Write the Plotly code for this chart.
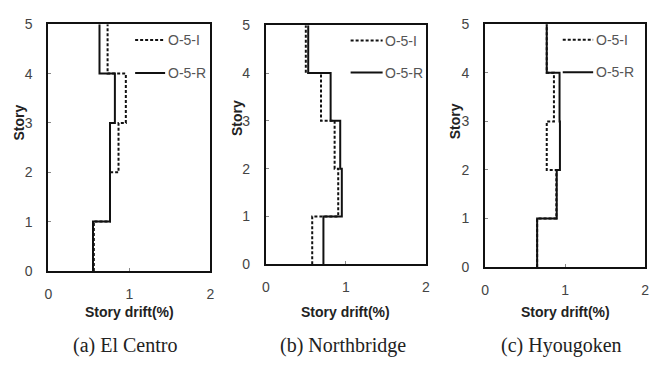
import plotly.graph_objects as go

stories = [0, 1, 2, 3, 4, 5]
# drift (%) per story interval (story 1..5), from bottom
elcentro_I = [0.56, 0.76, 0.865, 0.955, 0.73]
elcentro_R = [0.55, 0.76, 0.76, 0.82, 0.63]
northridge_I = [0.58, 0.905, 0.86, 0.69, 0.50]
northridge_R = [0.72, 0.95, 0.93, 0.81, 0.53]
hyougo_I = [0.65, 0.89, 0.77, 0.86, 0.77]
hyougo_R = [0.65, 0.895, 0.935, 0.93, 0.77]

captions = ["(a) El Centro", "(b) Northbridge", "(c) Hyougoken"]
series_names = ["O-5-I", "O-5-R"]
x_ticks = [0, 1, 2]
y_ticks = [0, 1, 2, 3, 4, 5]

W, H = 663, 365
panels_px = [(45, 209, 17, 275), (265, 427, 18, 268), (487, 649, 17, 271)]
legend_x = [(1.07, 1.44), (1.06, 1.46), (0.97, 1.35)]
story_lbl = [(15, 120), (236, 115), (456, 118)]
caption_cx = [122, 343, 564]

data = [(elcentro_I, elcentro_R), (northridge_I, northridge_R), (hyougo_I, hyougo_R)]

fig = go.Figure()
tick_font = dict(family="Arial, Liberation Sans", size=14, color="#444")
line_col = "#111"

for i, ((dI, dR), (x0, x1, y0, y1)) in enumerate(zip(data, panels_px)):
    ax = "" if i == 0 else str(i + 1)
    xa, ya = "x" + ax, "y" + ax
    for vals, dash in ((dI, "3px,2px"), (dR, "solid")):
        fig.add_trace(go.Scatter(
            x=list(vals) + [vals[-1]], y=stories, mode="lines",
            line=dict(color=line_col, width=2, dash=dash, shape="vh"),
            xaxis=xa, yaxis=ya, showlegend=False, hoverinfo="skip"))
    common = dict(showgrid=False, zeroline=False, showline=True, mirror=True,
                  linecolor="#111", linewidth=2, ticks="inside", ticklen=3,
                  tickwidth=1, tickcolor="#888", tickfont=tick_font)
    fig.layout["xaxis" + ax] = dict(domain=[x0 / W, x1 / W], range=[0, 2],
                                    tickvals=x_ticks, anchor=ya, ticklabelstandoff=9, **common)
    fig.layout["yaxis" + ax] = dict(domain=[1 - y1 / H, 1 - y0 / H], range=[0, 5],
                                    tickvals=y_ticks, anchor=xa, ticklabelstandoff=11, **common)
    # legend samples
    lx0, lx1 = legend_x[i]
    for yy, dash, name in ((4.68, "3px,2px", series_names[0]), (4.01, "solid", series_names[1])):
        fig.add_shape(type="line", xref=xa, yref=ya, x0=lx0, x1=lx1, y0=yy, y1=yy,
                      line=dict(color=line_col, width=2, dash=dash))
        fig.add_annotation(xref=xa, yref=ya, x=lx1 + 0.01, y=yy, text=name, showarrow=False,
                           xanchor="left", yanchor="middle",
                           font=dict(family="Arial, Liberation Sans", size=14, color="#555"))
    sx, sy = story_lbl[i]
    fig.add_annotation(xref="paper", yref="paper", x=sx / W, y=1 - sy / H, text="<b>Story</b>",
                       textangle=-90, showarrow=False, xanchor="center", yanchor="middle",
                       font=dict(family="Liberation Sans Narrow, Arial Narrow, Arial", size=14, color="#222"))
    fig.add_annotation(xref="paper", yref="paper", x=(x0 + x1) / 2 / W, y=1 - 318 / H,
                       text="<b>Story drift(%)</b>", showarrow=False, xanchor="center", yanchor="middle",
                       font=dict(family="Liberation Sans Narrow, Arial Narrow, Arial", size=14, color="#222"))
    fig.add_annotation(xref="paper", yref="paper", x=caption_cx[i] / W, y=1 - 353 / H,
                       text=captions[i], showarrow=False, xanchor="center", yanchor="middle",
                       font=dict(family="Liberation Serif, Times New Roman, serif", size=20, color="#222"))

fig.update_layout(width=W, height=H, margin=dict(l=0, r=0, t=0, b=0),
                  plot_bgcolor="white", paper_bgcolor="white", showlegend=False)
fig.write_html("out.html")
